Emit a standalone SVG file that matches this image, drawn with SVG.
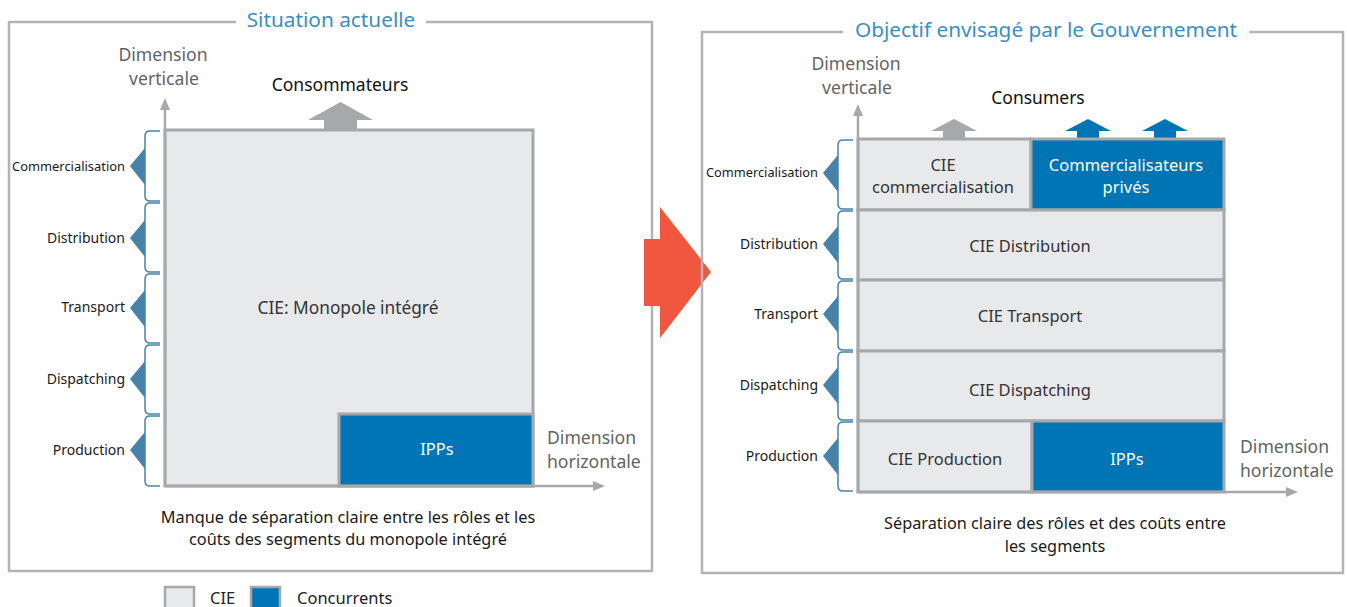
<svg xmlns="http://www.w3.org/2000/svg" width="1347" height="607" viewBox="0 0 1347 607">
<style>
text{font-family:"Noto Sans","Open Sans","Liberation Sans",sans-serif}
.frame{fill:none;stroke:#b1b3b5;stroke-width:2.5}
.title{font-size:20.8px;fill:#3b8ec4;text-anchor:middle}
.dim{font-size:17.6px;fill:#626365}
.cell{fill:#e8e9eb;stroke:#a6a8aa;stroke-width:3}
.blue{fill:#0075b5;stroke:#a6a8aa;stroke-width:3}
.t{font-size:16.5px;fill:#333;text-anchor:middle}
.tw{font-size:16.5px;fill:#fff;text-anchor:middle}
.lab{font-size:14px;fill:#1a1a1a;text-anchor:end}
.brace{fill:none;stroke:#4682a9;stroke-width:1.5}
.tri{fill:#4682a9}
.axis{stroke:#a6a8aa;stroke-width:2.5;fill:none}
.cap{font-size:16.3px;fill:#1a1a1a;text-anchor:middle}
</style>
<defs>
<marker id="ah" markerUnits="userSpaceOnUse" markerWidth="12" markerHeight="10" refX="1" refY="5" orient="auto"><path d="M0,0 L12,5 L0,10 Z" fill="#a6a8aa"/></marker>
</defs>
<rect width="1347" height="607" fill="#fff"/>

<!-- Left panel -->
<g id="left-panel">
<path class="frame" d="M236,22 H9 V571 H652 V22 H426"/>
<text class="title" x="331" y="27">Situation actuelle</text>
<text class="dim" x="163" y="61" text-anchor="middle">Dimension</text>
<text class="dim" x="164" y="85" text-anchor="middle">verticale</text>
<text x="340" y="91" font-size="17.5" fill="#111" text-anchor="middle">Consommateurs</text>
<polygon points="340.5,102 373,120 357,120 357,130 324,130 324,120 308,120" fill="#a6a8aa"/>
</g>
<g id="left-monopole">
<rect class="cell" x="165" y="130" width="368" height="356"/>
<text class="t" x="348" y="314" style="font-size:17.3px">CIE: Monopole intégré</text>
</g>
<g id="left-ipps">
<rect class="blue" x="339" y="414" width="194" height="72"/>
<text class="tw" x="437" y="455">IPPs</text>
</g>
<g id="left-dim-h">
<text class="dim" x="547" y="444">Dimension</text>
<text class="dim" x="547" y="468">horizontale</text>
</g>
<g id="left-caption">
<text class="cap" x="348" y="523">Manque de séparation claire entre les rôles et les</text>
<text class="cap" x="348" y="545">coûts des segments du monopole intégré</text>
</g>
<g id="left-labels">
<path class="brace" d="M160,131 H150 Q145,131 145,136 V196 Q145,201 150,201 H160"/>
<path class="brace" d="M160,203 H150 Q145,203 145,208 V267 Q145,272 150,272 H160"/>
<path class="brace" d="M160,274 H150 Q145,274 145,279 V338 Q145,343 150,343 H160"/>
<path class="brace" d="M160,345 H150 Q145,345 145,350 V409 Q145,414 150,414 H160"/>
<path class="brace" d="M160,416 H150 Q145,416 145,421 V481 Q145,486 150,486 H160"/>
<polygon class="tri" points="130,166 145,148 145,185"/>
<polygon class="tri" points="130,238 145,220 145,257"/>
<polygon class="tri" points="130,308 145,290 145,327"/>
<polygon class="tri" points="130,379 145,361 145,398"/>
<polygon class="tri" points="130,450 145,432 145,469"/>
<text class="lab" x="125" y="171" style="font-size:12.8px" textLength="113" lengthAdjust="spacingAndGlyphs">Commercialisation</text>
<text class="lab" x="125" y="243">Distribution</text>
<text class="lab" x="125" y="312">Transport</text>
<text class="lab" x="125" y="384">Dispatching</text>
<text class="lab" x="125" y="455">Production</text>
</g>

<!-- Big arrow -->
<g id="big-arrow">
<polygon points="644,239 660,239 660,207 711,272 660,338 660,306 644,306" fill="#f0573e"/>
</g>

<!-- Right panel -->
<g id="right-panel">
<path class="frame" d="M843,32 H702 V573 H1343 V32 H1249"/>
<text class="title" x="1046" y="37">Objectif envisagé par le Gouvernement</text>
<text class="dim" x="856" y="70" text-anchor="middle">Dimension</text>
<text class="dim" x="857" y="94" text-anchor="middle">verticale</text>
<text x="1038" y="104" font-size="17.5" fill="#111" text-anchor="middle">Consumers</text>
<polygon points="954,119 977,131 965,131 965,139 943,139 943,131 931,131" fill="#a6a8aa"/>
<polygon points="1088,119 1111,131 1099,131 1099,139 1077,139 1077,131 1065,131" fill="#0075b5"/>
<polygon points="1165,119 1188,131 1176,131 1176,139 1154,139 1154,131 1142,131" fill="#0075b5"/>
</g>
<g id="r-cie-com">
<rect class="cell" x="858" y="139" width="173" height="71"/>
<text class="t" x="943" y="171">CIE</text>
<text class="t" x="943" y="193">commercialisation</text>
</g>
<g id="r-com-prives">
<rect class="blue" x="1031" y="139" width="193" height="71"/>
<text class="tw" x="1126" y="171">Commercialisateurs</text>
<text class="tw" x="1126" y="193">privés</text>
</g>
<g id="r-distribution">
<rect class="cell" x="858" y="210" width="366" height="70"/>
<text class="t" x="1030" y="252">CIE Distribution</text>
</g>
<g id="r-transport">
<rect class="cell" x="858" y="280" width="366" height="71"/>
<text class="t" x="1030" y="322">CIE Transport</text>
</g>
<g id="r-dispatching">
<rect class="cell" x="858" y="351" width="366" height="70"/>
<text class="t" x="1030" y="396">CIE Dispatching</text>
</g>
<g id="r-cie-prod">
<rect class="cell" x="858" y="421" width="174" height="71"/>
<text class="t" x="945" y="465">CIE Production</text>
</g>
<g id="r-ipps">
<rect class="blue" x="1032" y="421" width="192" height="71"/>
<text class="tw" x="1127" y="465">IPPs</text>
</g>
<g id="right-dim-h">
<text class="dim" x="1240" y="453">Dimension</text>
<text class="dim" x="1240" y="477">horizontale</text>
</g>
<g id="right-caption">
<text class="cap" x="1055" y="529">Séparation claire des rôles et des coûts entre</text>
<text class="cap" x="1055" y="552">les segments</text>
</g>
<g id="right-labels">
<path class="brace" d="M853,140 H843 Q838,140 838,145 V204 Q838,209 843,209 H853"/>
<path class="brace" d="M853,211 H843 Q838,211 838,216 V274 Q838,279 843,279 H853"/>
<path class="brace" d="M853,281 H843 Q838,281 838,286 V345 Q838,350 843,350 H853"/>
<path class="brace" d="M853,352 H843 Q838,352 838,357 V415 Q838,420 843,420 H853"/>
<path class="brace" d="M853,422 H843 Q838,422 838,427 V486 Q838,491 843,491 H853"/>
<polygon class="tri" points="823,173 838,155 838,192"/>
<polygon class="tri" points="823,244 838,226 838,263"/>
<polygon class="tri" points="823,314 838,296 838,333"/>
<polygon class="tri" points="823,385 838,367 838,404"/>
<polygon class="tri" points="823,456 838,438 838,475"/>
<text class="lab" x="818" y="177" style="font-size:12.8px" textLength="112" lengthAdjust="spacingAndGlyphs">Commercialisation</text>
<text class="lab" x="818" y="249">Distribution</text>
<text class="lab" x="818" y="319">Transport</text>
<text class="lab" x="818" y="390">Dispatching</text>
<text class="lab" x="818" y="461">Production</text>
</g>

<!-- Connectors: axes -->
<g id="connectors">
<line class="axis" x1="165" y1="487" x2="165" y2="109" marker-end="url(#ah)"/>
<line class="axis" x1="165" y1="486" x2="594" y2="486" marker-end="url(#ah)"/>
<line class="axis" x1="858" y1="493" x2="858" y2="115" marker-end="url(#ah)"/>
<line class="axis" x1="858" y1="492" x2="1287" y2="492" marker-end="url(#ah)"/>
</g>

<!-- Legend -->
<g id="legend">
<rect x="165" y="587" width="29" height="24" fill="#e8e9eb" stroke="#a6a8aa" stroke-width="2.5"/>
<text x="210" y="604" font-size="16.5" fill="#222">CIE</text>
<rect x="251" y="587" width="29" height="24" fill="#0075b5" stroke="#a6a8aa" stroke-width="2.5"/>
<text x="297" y="604" font-size="16.5" fill="#222">Concurrents</text>
</g>
</svg>
